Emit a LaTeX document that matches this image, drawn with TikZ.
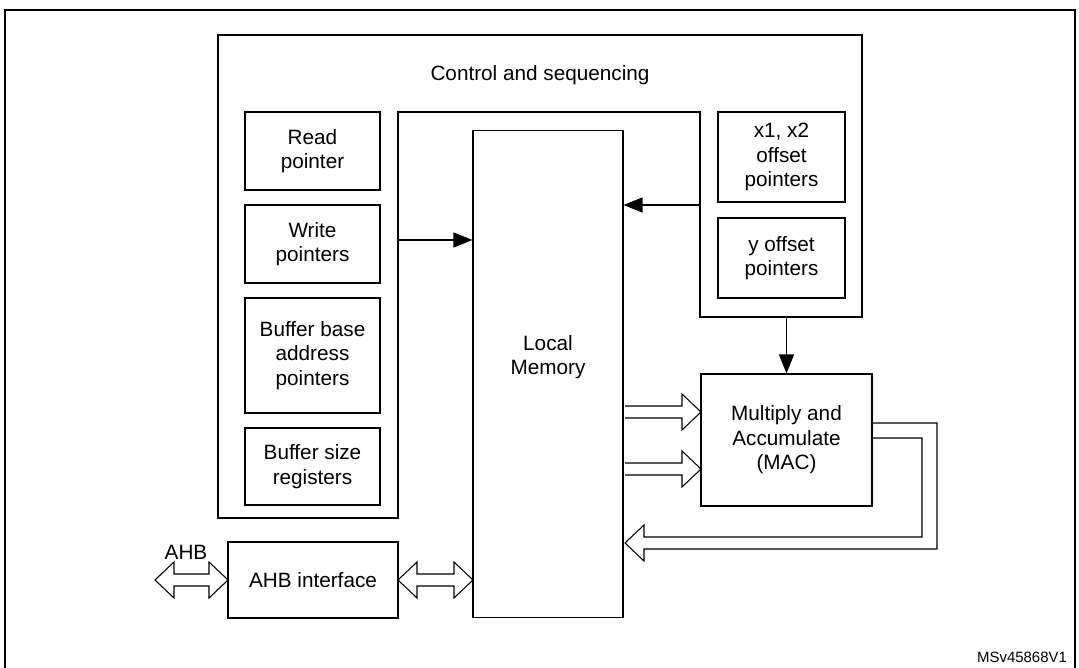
\documentclass[tikz,border=0pt]{standalone}
\usepackage{fontspec}
\setmainfont{Liberation Sans}
\usepackage{tikz}
\usetikzlibrary{calc}
\usetikzlibrary{arrows.meta}

\tikzset{
  txt/.style={font=\fontsize{11.8}{14}\selectfont},
  blk/.style={draw,line width=0.6pt,align=center,inner sep=0pt,txt},
  pline/.style={line width=0.6pt},
  tip/.style={pline,-{Triangle[length=0.38cm,width=0.3cm]}}
}

\begin{document}
\begin{tikzpicture}[x=0.02cm,y=-0.02cm]
  % Boundary
  \path[use as bounding box] (0,0) rectangle (1079,668);
  \clip (0,0) rectangle (1079,668);
  \draw[line width=1pt] (5,690) -- (5,10) -- (1075,10) -- (1075,690);
  % Control and sequencing
  \draw[pline] (218,35) -- (862,35) -- (862,317) -- (700,317) -- (700,112) -- (398,112) -- (398,518) -- (218,518) -- cycle;
  \node[txt] (ctrl) at (540,75) {Control and sequencing};
  % Pointer blocks
  \node[blk,minimum width=2.7cm,minimum height=1.56cm] (rd) at (312.5,151) {Read\\pointer};
  \node[blk,minimum width=2.7cm,minimum height=1.56cm] (wr) at (312.5,244) {Write\\pointers};
  \node[blk,minimum width=2.7cm,minimum height=2.3cm] (base) at (312.5,355.5) {Buffer base\\address\\pointers};
  \node[blk,minimum width=2.7cm,minimum height=1.54cm] (size) at (312.5,466.5) {Buffer size\\registers};
  \node[blk,minimum width=2.54cm,minimum height=1.8cm] (xoff) at (781.5,157) {x1, x2\\offset\\pointers};
  \node[blk,minimum width=2.54cm,minimum height=1.6cm] (yoff) at (781.5,258) {y offset\\pointers};
  % Main blocks
  \node[blk,minimum width=3cm,minimum height=9.76cm] (mem) at (548,374) {};
  \node[txt,align=center] (memlbl) at (548,357) {Local\\Memory};
  \node[blk,minimum width=3.42cm,minimum height=2.64cm] (mac) at (786.5,440) {Multiply and\\Accumulate\\(MAC)};
  \node[blk,minimum width=3.4cm,minimum height=1.52cm] (ahb) at (313,580) {AHB interface};
  % Control arrows
  \coordinate (wrout) at (398,240);
  \coordinate (offout) at (700,205);
  \coordinate (macin) at (786.5,317);
  \draw[tip] (wrout) -- (wrout -| mem.west);
  \draw[tip] (offout) -- (offout -| mem.east);
  \draw[tip] (macin) -- (mac.north);
  % Data paths
  \foreach \y in {412,469}
    \draw[pline] (625,\y-6) -- (682,\y-6) -- (682,\y-18) -- (701,\y) -- (682,\y+18) -- (682,\y+6) -- (625,\y+6);
  \draw[pline] (872,423) -- (937,423) -- (937,549) -- (644,549) -- (644,561) -- (625,543) -- (644,525) -- (644,537) -- (922,537) -- (922,438) -- (872,438);
  \draw[pline] (398,580) -- (417,562) -- (417,574) -- (454,574) -- (454,562) -- (473,580) -- (454,598) -- (454,586) -- (417,586) -- (417,598) -- cycle;
  \draw[pline] (155,580) -- (174,562) -- (174,574) -- (209,574) -- (209,562) -- (228,580) -- (209,598) -- (209,586) -- (174,586) -- (174,598) -- cycle;
  \node[txt] (bus) at (186,552) {AHB};
  \node[font=\fontsize{8.5}{10}\selectfont] (ref) at (1022,657) {MSv45868V1};
\end{tikzpicture}
\end{document}
